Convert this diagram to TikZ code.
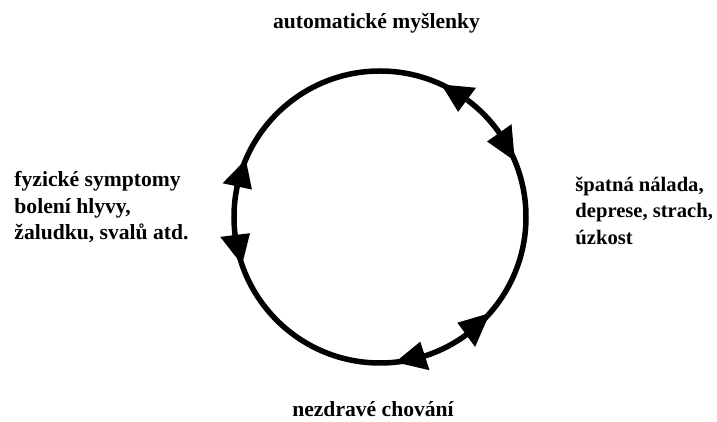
\documentclass[tikz,border=0pt]{standalone}
\usepackage{fontspec}
\setmainfont{Liberation Serif}
\begin{document}
\begin{tikzpicture}[x=1pt, y=1pt, line width=5.5pt,
        popisek/.style={font=\fontsize{21.6}{26.5}\selectfont\bfseries, inner sep=0pt, align=left}]
        \def \R {146};
        \def \W {15};
        \useasboundingbox ( -380, -205 ) rectangle ( 337, 217 );

        % kruh
        \draw ( 0, 0 ) circle ( \R );

        % šipky (hrot / základna)
        \foreach \hrot/\zaklad in {65.2/53.4, 22.6/35.2, 156.8/167.9, 199.1/187.1, 318.8/306.2, 276/287.9}
            \fill ( \hrot:\R ) -- ( \zaklad:{\R+\W} ) -- ( \zaklad:{\R-\W} ) -- cycle;

        % popisky
        \node [popisek, anchor=base] (mysl) at ( -3.5, 188 ) {automatické myšlenky};
        \node [popisek, anchor=base] (chovani) at ( -7, -199.5 ) {nezdravé chování};
        \node [popisek, anchor=base west] (telo) at ( -368.3, -23 ) {fyzické symptomy\\ bolení hlyvy,\\ žaludku, svalů atd.};
        \node [popisek, font=\fontsize{20.6}{26.3}\selectfont\bfseries, anchor=base west] (nalada) at ( 192.7, -27.3 ) {špatná nálada,\\ deprese, strach,\\ úzkost};
    \end{tikzpicture}
\end{document}
